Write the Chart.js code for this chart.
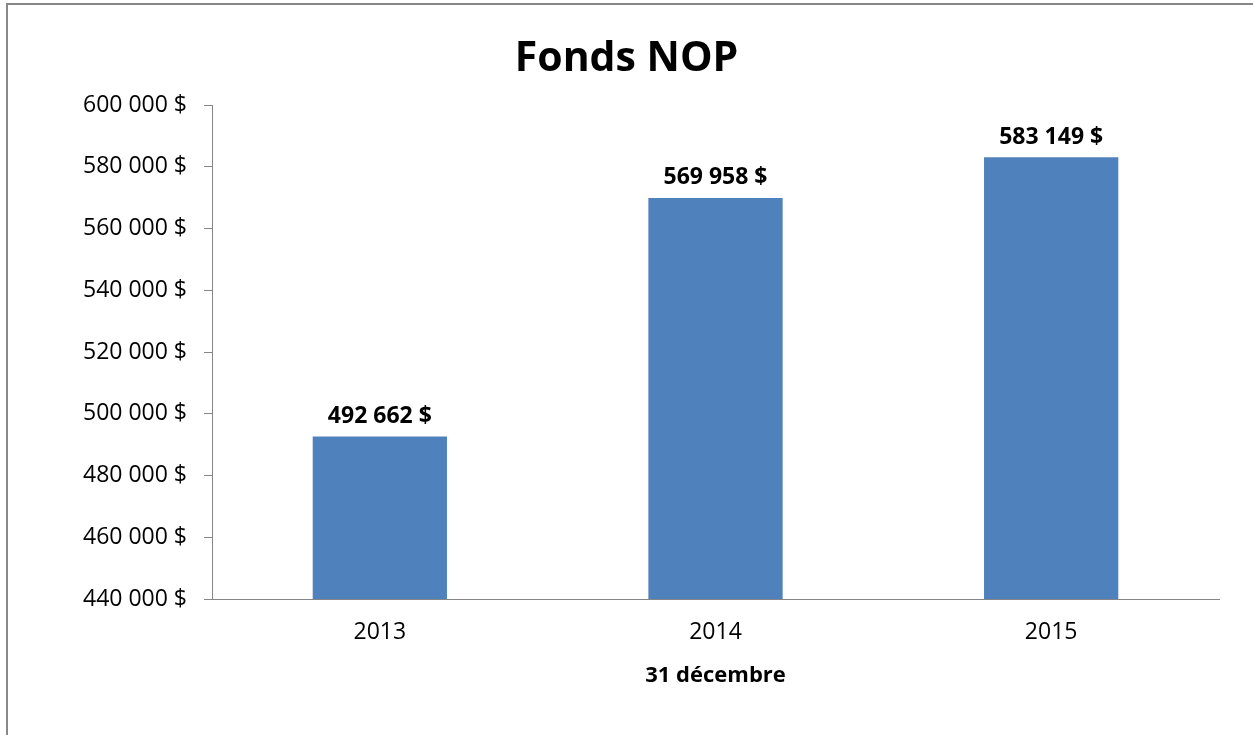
<!DOCTYPE html>
<html>
<head>
<meta charset="utf-8">
<script src="https://cdn.jsdelivr.net/npm/chart.js@4/dist/chart.umd.min.js"></script>
<style>
  html, body { margin: 0; padding: 0; background: #fff; }
  #wrap { position: relative; width: 1253px; height: 735px; }
  #frame {
    position: absolute; left: 6px; top: 3px; right: -10px; bottom: -10px;
    border-left: 2px solid #888; border-top: 2px solid #888;
    pointer-events: none;
  }
</style>
</head>
<body>
<div id="wrap">
  <canvas id="myChart" width="1253" height="735"></canvas>
  <div id="frame"></div>
</div>
<script>
const years = ["2013", "2014", "2015"];
const fonds = [492662, 569958, 583149];
const yMin = 440000;
const yMax = 600000;
const yStep = 20000;

function money(v) {
  return String(Math.round(v)).replace(/\B(?=(\d{3})+(?!\d))/g, " ") + " $";
}

// bold value above each bar
const valueLabels = {
  id: "valueLabels",
  afterDatasetsDraw(chart) {
    const ctx = chart.ctx;
    const meta = chart.getDatasetMeta(0);
    ctx.save();
    ctx.font = "bold 23px 'Open Sans'";
    ctx.fillStyle = "#000";
    ctx.textAlign = "center";
    ctx.textBaseline = "middle";
    meta.data.forEach((bar, i) => {
      ctx.fillText(money(fonds[i]), bar.x, bar.y - 20);
    });
    ctx.restore();
  }
};

new Chart(document.getElementById("myChart"), {
  type: "bar",
  data: {
    labels: years,
    datasets: [{
      data: fonds,
      backgroundColor: "#4F81BD",
      barPercentage: 0.4,
      categoryPercentage: 1
    }]
  },
  options: {
    responsive: false,
    animation: false,
    layout: { padding: 0 },
    plugins: {
      legend: { display: false },
      tooltip: { enabled: false },
      title: {
        display: true,
        text: "Fonds NOP",
        color: "#000",
        font: { family: "'Open Sans'", size: 41, weight: "bold", lineHeight: 1.2 },
        padding: { top: 35, bottom: 21 }
      }
    },
    scales: {
      x: {
        grid: { display: false, drawTicks: false },
        border: { display: true, color: "#868686", width: 1 },
        ticks: { color: "#000", font: { family: "'Open Sans'", size: 23 }, padding: 20 },
        title: {
          display: true,
          text: "31 décembre",
          color: "#000",
          font: { family: "'Open Sans'", size: 22, weight: "bold", lineHeight: 1.2 },
          padding: { top: 0, bottom: 46 }
        },
        afterFit(scale) { scale.height = 136; }
      },
      y: {
        min: yMin,
        max: yMax,
        grid: { drawOnChartArea: false, drawTicks: true, tickLength: 8, color: "#868686" },
        border: { display: true, color: "#868686", width: 1 },
        ticks: {
          stepSize: yStep,
          color: "#000",
          padding: 17,
          font: { family: "'Open Sans'", size: 23 },
          callback: (v) => money(v)
        },
        afterFit(scale) { scale.width = 212; }
      },
      // empty right margin so the title stays centred on the whole canvas
      yRight: {
        position: "right",
        min: yMin,
        max: yMax,
        grid: { display: false },
        border: { display: false },
        ticks: { display: false },
        afterFit(scale) { scale.width = 34; }
      }
    }
  },
  plugins: [valueLabels]
});
</script>
</body>
</html>
